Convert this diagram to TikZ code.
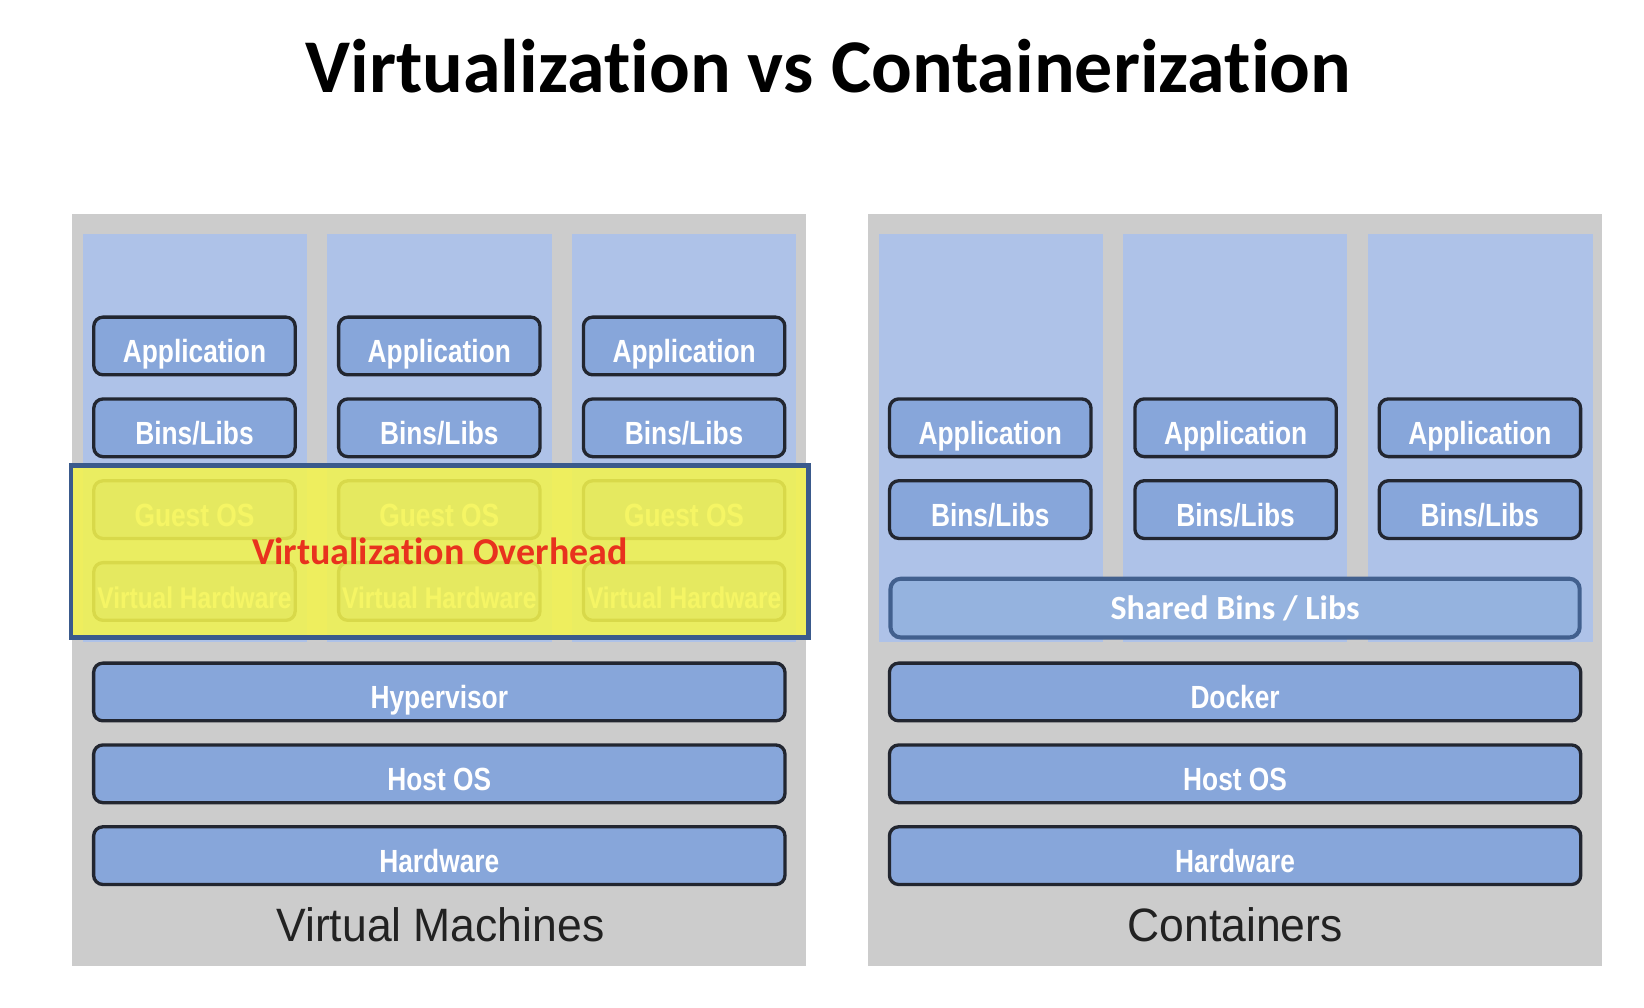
\documentclass[tikz,border=0pt]{standalone}
\usepackage{fontspec}
\usepackage{xcolor}
\usepackage{tikz}
\usetikzlibrary{positioning}
\newfontfamily\headfont[Ligatures=NoCommon]{Carlito}
\newfontfamily\boxfont[FakeStretch=0.82]{Liberation Sans}
\newfontfamily\capfont[FakeStretch=0.95]{Liberation Sans}
\definecolor{panelgray}{RGB}{204, 204, 204}
\definecolor{columnblue}{RGB}{174, 194, 232}
\definecolor{layerblue}{RGB}{135, 166, 218}
\definecolor{layerborder}{RGB}{34, 38, 48}
\definecolor{sharedblue}{RGB}{149, 179, 223}
\definecolor{sharedborder}{RGB}{66, 96, 142}
\definecolor{overlayyellow}{RGB}{244, 244, 78}
\definecolor{overlayborder}{RGB}{58, 90, 140}
\definecolor{overheadred}{RGB}{232, 50, 30}
\definecolor{captiontext}{RGB}{34, 34, 34}
\tikzset{
  panel/.style={
    rectangle, fill=panelgray, inner sep=0pt,
    minimum width=7cm, minimum height=7.17cm
  },
  column/.style={
    rectangle, fill=columnblue, inner sep=0pt,
    minimum width=2.14cm, minimum height=3.89cm
  },
  layerbox/.style={
    rectangle, rounded corners=2.5pt, draw=layerborder, line width=0.9pt,
    fill=layerblue, text=white, inner sep=0pt, outer sep=0pt,
    minimum height=0.55cm, text height=9pt, text depth=0pt,
    font=\boxfont\bfseries\fontsize{8.7}{10}\selectfont
  },
  smallbox/.style={layerbox, minimum width=1.92cm},
  vhwbox/.style={smallbox, font=\boxfont\bfseries\fontsize{8.1}{10}\selectfont},
  widebox/.style={layerbox, minimum width=6.59cm},
  sharedbox/.style={
    rectangle, rounded corners=2.8pt, draw=sharedborder, line width=1.1pt,
    fill=sharedblue, text=white, inner sep=0pt, outer sep=0pt,
    minimum width=6.57cm, minimum height=0.56cm,
    font=\headfont\bfseries\fontsize{9.2}{11}\selectfont
  },
  overlaybox/.style={
    rectangle, draw=overlayborder, line width=1.3pt,
    fill=overlayyellow, fill opacity=0.87, inner sep=0pt,
    minimum width=7.03cm, minimum height=1.64cm
  },
  caption/.style={
    anchor=base, text=captiontext,
    font=\capfont\fontsize{12.7}{14}\selectfont
  }
}

\begin{document}
\begin{tikzpicture}[x=0.01cm, y=-0.01cm, node distance=0.23cm]

  \useasboundingbox (0,0) rectangle (1568,961);

  % Title
  \node[anchor=base, font=\headfont\bfseries\fontsize{20.6}{24}\selectfont] (title) at (790,88)
    {Virtualization vs Containerization};

  % Panels and columns
  \node[panel] (vmpanel) at (419,562.5) {};
  \node[panel] (ctpanel) at (1178,562.5) {};

  \node[column] (vmcol1) at (186,417.5) {};
  \node[column] (vmcol2) at (419,417.5) {};
  \node[column] (vmcol3) at (652.5,417.5) {};
  \node[column] (ctcol1) at (945,417.5) {};
  \node[column] (ctcol2) at (1178,417.5) {};
  \node[column] (ctcol3) at (1412,417.5) {};

  % Virtual machines: guest stacks
  \node[smallbox] (vmapp1) at (185.5,330) {Application};
  \node[smallbox, below=of vmapp1] (vmbins1) {Bins/Libs};
  \node[smallbox, below=of vmbins1] (vmguest1) {Guest OS};
  \node[vhwbox, below=of vmguest1] (vmvhw1) {Virtual Hardware};

  \node[smallbox] (vmapp2) at (419,330) {Application};
  \node[smallbox, below=of vmapp2] (vmbins2) {Bins/Libs};
  \node[smallbox, below=of vmbins2] (vmguest2) {Guest OS};
  \node[vhwbox, below=of vmguest2] (vmvhw2) {Virtual Hardware};

  \node[smallbox] (vmapp3) at (652.5,330) {Application};
  \node[smallbox, below=of vmapp3] (vmbins3) {Bins/Libs};
  \node[smallbox, below=of vmbins3] (vmguest3) {Guest OS};
  \node[vhwbox, below=of vmguest3] (vmvhw3) {Virtual Hardware};

  % Virtual machines: host stack
  \node[widebox] (hypervisor) at (419,660) {Hypervisor};
  \node[widebox, below=of hypervisor] (vmhostos) {Host OS};
  \node[widebox, below=of vmhostos] (vmhardware) {Hardware};

  \node[caption] (vmcaption) at (420,898) {Virtual Machines};

  % Overhead highlight
  \node[overlaybox] (overhead) at (419.5,526) {};
  \node[text=overheadred, font=\headfont\bfseries\fontsize{10.3}{12}\selectfont] (overheadlabel)
    at (overhead.center) {Virtualization Overhead};

  % Containers: app stacks
  \node[smallbox] (ctapp1) at (944.5,408) {Application};
  \node[smallbox, below=of ctapp1] (ctbins1) {Bins/Libs};

  \node[smallbox] (ctapp2) at (1178.5,408) {Application};
  \node[smallbox, below=of ctapp2] (ctbins2) {Bins/Libs};

  \node[smallbox] (ctapp3) at (1411.5,408) {Application};
  \node[smallbox, below=of ctapp3] (ctbins3) {Bins/Libs};

  % Containers: shared stack
  \node[sharedbox] (shared) at (1178,580) {Shared Bins / Libs};
  \node[widebox] (docker) at (1178,660) {Docker};
  \node[widebox, below=of docker] (cthostos) {Host OS};
  \node[widebox, below=of cthostos] (cthardware) {Hardware};

  \node[caption] (ctcaption) at (1178,898) {Containers};

\end{tikzpicture}
\end{document}
